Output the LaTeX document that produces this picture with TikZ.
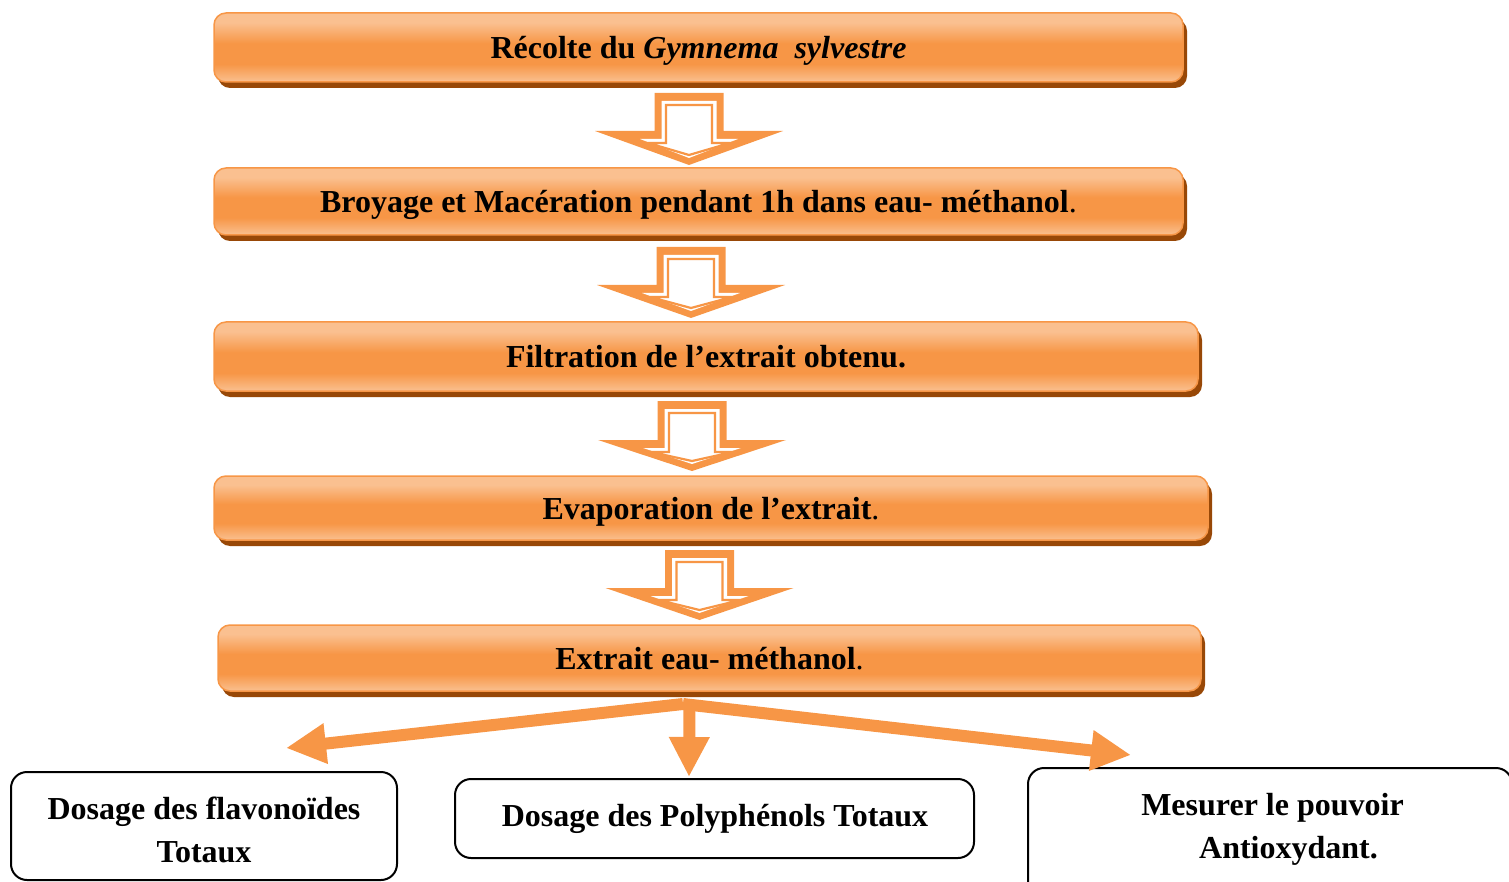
\documentclass[tikz,border=0pt]{standalone}
\usepackage{fontspec}
\setmainfont{Liberation Serif}
\usetikzlibrary{arrows.meta}
\definecolor{ormid}{HTML}{F79646}
\definecolor{orlight}{HTML}{FAC090}
\definecolor{orshadow}{HTML}{984807}
\pgfdeclareverticalshading{boxsh}{100bp}{color(0bp)=(orlight); color(25bp)=(orlight); color(38bp)=(ormid); color(53bp)=(ormid); color(68bp)=(orlight); color(100bp)=(orlight)}
\newcommand\holarrow[4]{%
  \fill[ormid] (#1-34.5,#2) -- (#1+34.5,#2) -- (#1+34.5,#3) -- (#1+94,#3) -- (#1,#4) -- (#1-94,#3) -- (#1-34.5,#3) -- cycle;
  \fill[white] (#1-27.5,#2+8) -- (#1+27.5,#2+8) -- (#1+27.5,#3+8) -- (#1+49,#3+8) -- (#1,#4-7) -- (#1-49,#3+8) -- (#1-27.5,#3+8) -- cycle;
  \draw[ormid,line width=2.2pt,line join=miter] (#1-23,#2+12) -- (#1+23,#2+12) -- (#1+23,#3+12) -- (#1+41,#3+12) -- (#1,#4-10) -- (#1-41,#3+12) -- (#1-23,#3+12) -- cycle;
}
\begin{document}
\begin{tikzpicture}[x=1pt,y=-1pt,
  obox/.style={rounded corners=12pt, shade, shading=boxsh, draw=ormid, line width=1.5pt,
    preaction={fill=orshadow, transform canvas={xshift=4pt,yshift=-6pt}},
    font=\fontsize{32}{38}\selectfont\bfseries, text height=22pt, text depth=0pt, inner sep=0pt},
  wbox/.style={draw=black, line width=2pt, rounded corners=16pt, fill=white, inner sep=0pt},
  wtxt/.style={font=\fontsize{32}{38}\selectfont\bfseries, inner sep=0pt, anchor=base},
  barrow/.style={draw=ormid, line width=12pt, -{Triangle[length=40pt,width=38pt]}}]
\useasboundingbox (0,0) rectangle (1509,882);
\clip (0,0) rectangle (1509,882);
% top boxes
\node[obox, minimum width=969pt, minimum height=69pt] (e1) at (698.5,47.5) {Récolte du \textit{Gymnema\ \ sylvestre}};
\node[obox, minimum width=969pt, minimum height=67pt] (e2) at (698.5,201.5) {Broyage et Macération pendant 1h dans eau- méthanol{\mdseries.}};
\node[obox, minimum width=984pt, minimum height=69pt] (e3) at (706,356.5) {Filtration de l’extrait obtenu.};
\node[obox, minimum width=994pt, minimum height=64pt] (e4) at (711,508) {Evaporation de l’extrait{\mdseries.}};
\node[obox, minimum width=983pt, minimum height=66pt] (e5) at (709.5,658) {Extrait eau- méthanol{\mdseries.}};
% hollow arrows
\holarrow{689}{93}{131}{165}
\holarrow{691}{247}{285}{318}
\holarrow{692}{401}{440}{471}
\holarrow{699.5}{550}{588}{620}
% bottom boxes
\node[wbox, minimum width=386pt, minimum height=108pt] (ba) at (204,826) {};
\node[wbox, minimum width=519pt, minimum height=79pt] (bb) at (714.5,818.5) {};
\node[wbox, minimum width=484pt, minimum height=137pt] (bc) at (1270,836.5) {};
\node[wtxt] (ta1) at (204,819) {Dosage des flavonoïdes};
\node[wtxt] (ta2) at (204,862) {Totaux};
\node[wtxt] (tb) at (715,826) {Dosage des Polyphénols Totaux};
\node[wtxt] (tc1) at (1272.5,815) {Mesurer le pouvoir};
\node[wtxt] (tc2) at (1288.5,858) {Antioxydant.};
% bottom arrows
\coordinate (fork) at (683,704);
\coordinate (forkB) at (689.5,700);
\coordinate (tipA) at (286,748);
\coordinate (tipB) at (689,777);
\coordinate (tipC) at (1131,755);
\draw[barrow] (fork) -- (tipA);
\draw[barrow] (fork) -- (tipC);
\draw[barrow] (forkB) -- (tipB);
\end{tikzpicture}
\end{document}
